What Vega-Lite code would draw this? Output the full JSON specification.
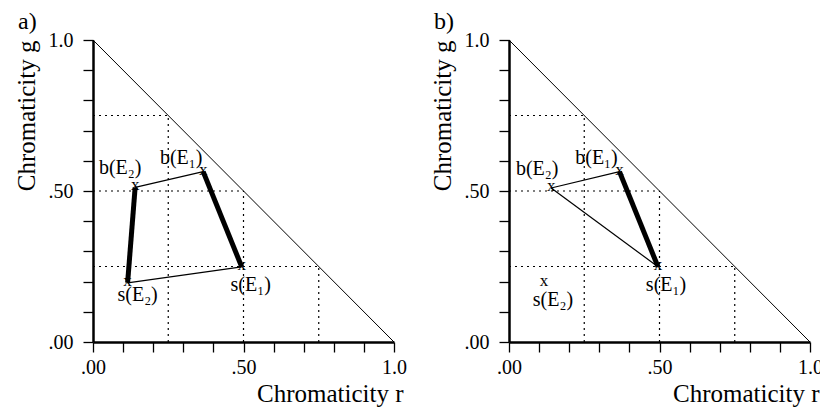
{
  "$schema": "https://vega.github.io/schema/vega-lite/v6.json",
  "background": "white",
  "padding": {"left": 13, "top": 10, "right": 5, "bottom": 5},
  "spacing": 115,
  "bounds": "flush",
  "config": {
    "font": "Liberation Serif",
    "view": {"stroke": null},
    "axis": {
      "values": [0, 0.25, 0.5, 0.75, 1],
      "labelExpr": "datum.value == 0 ? '.00' : datum.value == 0.5 ? '.50' : datum.value == 1 ? '1.0' : ''",
      "grid": false,
      "domainWidth": 2.5,
      "domainColor": "black",
      "tickColor": "black",
      "tickWidth": 1.3,
      "tickSize": 10,
      "labelFontSize": 20,
      "labelColor": "black",
      "labelFlush": false,
      "labelOverlap": false,
      "titleFontSize": 25,
      "titleFontWeight": "normal",
      "titleColor": "black",
      "titleAnchor": "end"
    },
    "axisX": {"labelPadding": 5, "titlePadding": 4, "titleX": 310},
    "axisY": {"labelPadding": 10, "titlePadding": 9},
    "title": {"fontSize": 24, "fontWeight": "normal", "anchor": "start", "frame": "bounds", "color": "black", "offset": -4, "dx": 4}
  },
  "datasets": {
    "grid": [
      {"r": 0, "g": 0.75, "r2": 0.25, "g2": 0.75},
      {"r": 0, "g": 0.5, "r2": 0.5, "g2": 0.5},
      {"r": 0, "g": 0.25, "r2": 0.75, "g2": 0.25},
      {"r": 0.25, "g": 0, "r2": 0.25, "g2": 0.75},
      {"r": 0.5, "g": 0, "r2": 0.5, "g2": 0.5},
      {"r": 0.75, "g": 0, "r2": 0.75, "g2": 0.25}
    ],
    "hyp": [{"r": 0, "g": 1, "r2": 1, "g2": 0}],
    "pointsA": [
      {"label": "b(E₂)", "r": 0.14, "g": 0.512},
      {"label": "b(E₁)", "r": 0.366, "g": 0.564},
      {"label": "s(E₁)", "r": 0.494, "g": 0.249},
      {"label": "s(E₂)", "r": 0.115, "g": 0.196}
    ],
    "edgesA": [
      {"link": "thin", "r": 0.14, "g": 0.512, "r2": 0.366, "g2": 0.564},
      {"link": "thin", "r": 0.115, "g": 0.196, "r2": 0.494, "g2": 0.249},
      {"link": "thick", "r": 0.14, "g": 0.512, "r2": 0.115, "g2": 0.196},
      {"link": "thick", "r": 0.366, "g": 0.564, "r2": 0.494, "g2": 0.249}
    ],
    "pointsB": [
      {"label": "b(E₂)", "r": 0.14, "g": 0.51},
      {"label": "b(E₁)", "r": 0.367, "g": 0.564},
      {"label": "s(E₁)", "r": 0.495, "g": 0.249},
      {"label": "s(E₂)", "r": 0.116, "g": 0.194}
    ],
    "edgesB": [
      {"link": "thin", "r": 0.14, "g": 0.51, "r2": 0.367, "g2": 0.564},
      {"link": "thin", "r": 0.14, "g": 0.51, "r2": 0.495, "g2": 0.249},
      {"link": "thick", "r": 0.367, "g": 0.564, "r2": 0.495, "g2": 0.249}
    ]
  },
  "hconcat": [
    {
      "width": 301,
      "height": 302,
      "title": "a)",
      "encoding": {
        "x": {"field": "r", "type": "quantitative", "title": "Chromaticity r", "scale": {"domain": [0, 1], "nice": false, "zero": false}},
        "y": {"field": "g", "type": "quantitative", "title": "Chromaticity g", "scale": {"domain": [0, 1], "nice": false, "zero": false}}
      },
      "layer": [
        {"data": {"name": "grid"}, "mark": {"type": "rule", "color": "black", "strokeWidth": 1.2, "strokeDash": [2, 4]}, "encoding": {"x2": {"field": "r2"}, "y2": {"field": "g2"}}},
        {"data": {"name": "hyp"}, "mark": {"type": "rule", "color": "black", "strokeWidth": 1}, "encoding": {"x2": {"field": "r2"}, "y2": {"field": "g2"}}},
        {"data": {"name": "pointsA"}, "mark": {"type": "text", "text": "x", "fontSize": 17, "baseline": "middle", "dy": -2, "color": "black"}, "encoding": {}},
        {"data": {"name": "edgesA"}, "mark": {"type": "rule", "color": "black"}, "encoding": {"x2": {"field": "r2"}, "y2": {"field": "g2"}, "strokeWidth": {"field": "link", "type": "nominal", "scale": {"domain": ["thin", "thick"], "range": [1.2, 5]}, "legend": null}}},
        {"data": {"name": "pointsA"}, "transform": [{"filter": "datum.label == 'b(E₂)'"}], "mark": {"type": "text", "fontSize": 20, "baseline": "middle", "dx": -15, "dy": -19, "color": "black"}, "encoding": {"text": {"field": "label"}}},
        {"data": {"name": "pointsA"}, "transform": [{"filter": "datum.label == 'b(E₁)'"}], "mark": {"type": "text", "fontSize": 20, "baseline": "middle", "dx": -22, "dy": -14, "color": "black"}, "encoding": {"text": {"field": "label"}}},
        {"data": {"name": "pointsA"}, "transform": [{"filter": "datum.label == 's(E₁)'"}], "mark": {"type": "text", "fontSize": 20, "baseline": "middle", "dx": 9, "dy": 18, "color": "black"}, "encoding": {"text": {"field": "label"}}},
        {"data": {"name": "pointsA"}, "transform": [{"filter": "datum.label == 's(E₂)'"}], "mark": {"type": "text", "fontSize": 20, "baseline": "middle", "dx": 10, "dy": 12, "color": "black"}, "encoding": {"text": {"field": "label"}}}
      ]
    },
    {
      "width": 301,
      "height": 302,
      "title": "b)",
      "encoding": {
        "x": {"field": "r", "type": "quantitative", "title": "Chromaticity r", "scale": {"domain": [0, 1], "nice": false, "zero": false}},
        "y": {"field": "g", "type": "quantitative", "title": "Chromaticity g", "scale": {"domain": [0, 1], "nice": false, "zero": false}}
      },
      "layer": [
        {"data": {"name": "grid"}, "mark": {"type": "rule", "color": "black", "strokeWidth": 1.2, "strokeDash": [2, 4]}, "encoding": {"x2": {"field": "r2"}, "y2": {"field": "g2"}}},
        {"data": {"name": "hyp"}, "mark": {"type": "rule", "color": "black", "strokeWidth": 1}, "encoding": {"x2": {"field": "r2"}, "y2": {"field": "g2"}}},
        {"data": {"name": "pointsB"}, "mark": {"type": "text", "text": "x", "fontSize": 17, "baseline": "middle", "dy": -2, "color": "black"}, "encoding": {}},
        {"data": {"name": "edgesB"}, "mark": {"type": "rule", "color": "black"}, "encoding": {"x2": {"field": "r2"}, "y2": {"field": "g2"}, "strokeWidth": {"field": "link", "type": "nominal", "scale": {"domain": ["thin", "thick"], "range": [1.2, 5]}, "legend": null}}},
        {"data": {"name": "pointsB"}, "transform": [{"filter": "datum.label == 'b(E₂)'"}], "mark": {"type": "text", "fontSize": 20, "baseline": "middle", "dx": -14, "dy": -19, "color": "black"}, "encoding": {"text": {"field": "label"}}},
        {"data": {"name": "pointsB"}, "transform": [{"filter": "datum.label == 'b(E₁)'"}], "mark": {"type": "text", "fontSize": 20, "baseline": "middle", "dx": -23, "dy": -14, "color": "black"}, "encoding": {"text": {"field": "label"}}},
        {"data": {"name": "pointsB"}, "transform": [{"filter": "datum.label == 's(E₁)'"}], "mark": {"type": "text", "fontSize": 20, "baseline": "middle", "dx": 8, "dy": 18, "color": "black"}, "encoding": {"text": {"field": "label"}}},
        {"data": {"name": "pointsB"}, "transform": [{"filter": "datum.label == 's(E₂)'"}], "mark": {"type": "text", "fontSize": 20, "baseline": "middle", "dx": 9, "dy": 17, "color": "black"}, "encoding": {"text": {"field": "label"}}}
      ]
    }
  ]
}
